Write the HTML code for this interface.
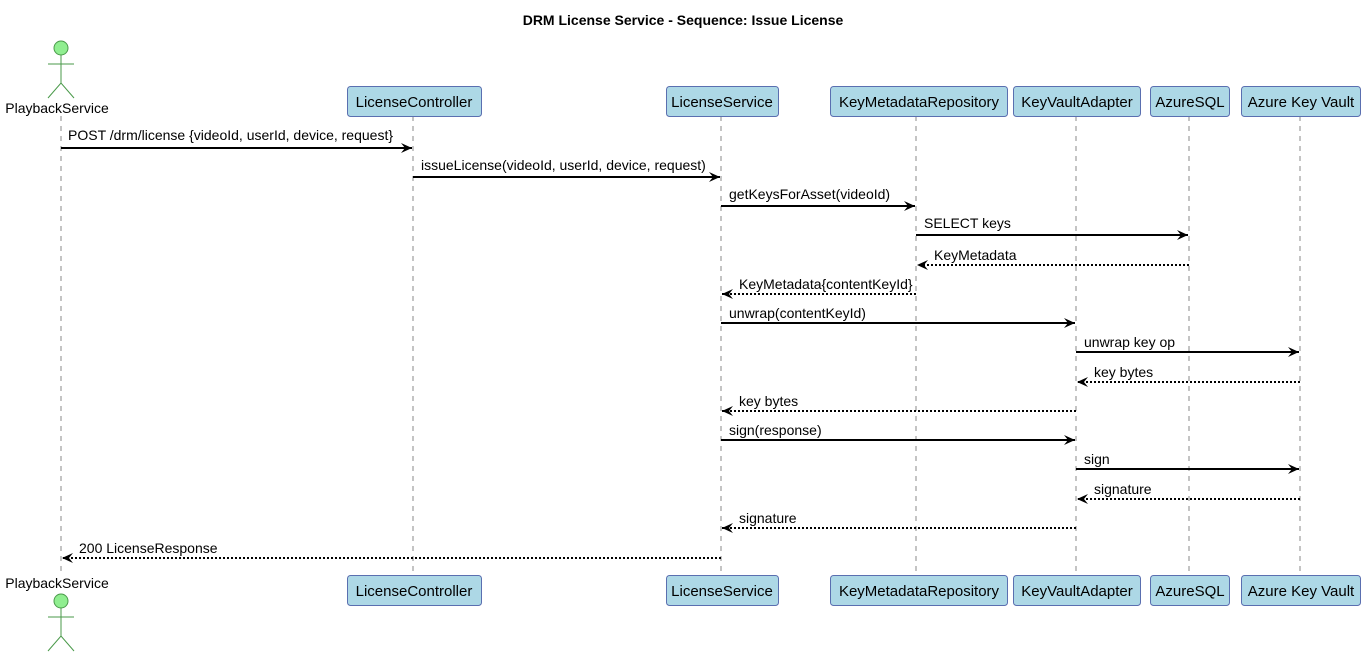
<!DOCTYPE html>
<html><head><meta charset="utf-8"><style>
body{margin:0;background:#fff}
svg text{font-family:"Liberation Sans","DejaVu Sans",sans-serif}
</style></head><body>
<svg width="1367" height="656" xmlns="http://www.w3.org/2000/svg">
<defs>
<marker id="a" markerWidth="12" markerHeight="10" refX="11" refY="5" orient="auto" markerUnits="userSpaceOnUse">
<path d="M0,0 L11,5 L0,10 L4,5 Z" fill="#000"/></marker>
</defs>
<text x="683" y="25" text-anchor="middle" font-size="14" font-weight="bold">DRM License Service - Sequence: Issue License</text>
<g stroke="#888" stroke-dasharray="5,5" stroke-width="1">
<line x1="61" y1="116" x2="61" y2="575"/>
<line x1="413" y1="116" x2="413" y2="575"/>
<line x1="721" y1="116" x2="721" y2="575"/>
<line x1="916" y1="116" x2="916" y2="575"/>
<line x1="1076" y1="116" x2="1076" y2="575"/>
<line x1="1189" y1="116" x2="1189" y2="575"/>
<line x1="1300" y1="116" x2="1300" y2="575"/>
</g>
<g fill="#ADD8E6" stroke="#5a6fb0" stroke-width="1">
<rect x="347.5" y="86.5" width="134" height="30" rx="3"/>
<rect x="666.5" y="86.5" width="112" height="30" rx="3"/>
<rect x="830.5" y="86.5" width="177" height="30" rx="3"/>
<rect x="1013.5" y="86.5" width="127" height="30" rx="3"/>
<rect x="1150.5" y="86.5" width="79" height="30" rx="3"/>
<rect x="1241.5" y="86.5" width="119" height="30" rx="3"/>
<rect x="347.5" y="575.5" width="134" height="30" rx="3"/>
<rect x="666.5" y="575.5" width="112" height="30" rx="3"/>
<rect x="830.5" y="575.5" width="177" height="30" rx="3"/>
<rect x="1013.5" y="575.5" width="127" height="30" rx="3"/>
<rect x="1150.5" y="575.5" width="79" height="30" rx="3"/>
<rect x="1241.5" y="575.5" width="119" height="30" rx="3"/>
</g>
<g font-size="15" text-anchor="middle">
<text x="414" y="107">LicenseController</text><text x="722" y="107">LicenseService</text>
<text x="919" y="107">KeyMetadataRepository</text><text x="1077" y="107">KeyVaultAdapter</text>
<text x="1190" y="107">AzureSQL</text><text x="1301" y="107">Azure Key Vault</text>
<text x="414" y="596">LicenseController</text><text x="722" y="596">LicenseService</text>
<text x="919" y="596">KeyMetadataRepository</text><text x="1077" y="596">KeyVaultAdapter</text>
<text x="1190" y="596">AzureSQL</text><text x="1301" y="596">Azure Key Vault</text>
</g>
<g font-size="14" text-anchor="middle">
<text x="57" y="113">PlaybackService</text><text x="57" y="588">PlaybackService</text>
</g>
<g stroke="#4a9a4a" fill="none" stroke-width="1">
<circle cx="61" cy="48" r="7" fill="#90EE90"/><line x1="61" y1="55" x2="61" y2="83"/><line x1="48" y1="64" x2="74" y2="64"/><polyline points="48,98 61,83 74,98"/>
<circle cx="61" cy="601" r="7" fill="#90EE90"/><line x1="61" y1="608" x2="61" y2="636"/><line x1="48" y1="617" x2="74" y2="617"/><polyline points="48,651 61,636 74,651"/>
</g>
<g stroke="#000" stroke-width="2" marker-end="url(#a)">
<line x1="61" y1="148" x2="412" y2="148"/>
<line x1="413" y1="177" x2="720" y2="177"/>
<line x1="721" y1="206" x2="915" y2="206"/>
<line x1="916" y1="235" x2="1188" y2="235"/>
<line x1="1189" y1="265" x2="917" y2="265" stroke-dasharray="2,2"/>
<line x1="916" y1="294" x2="722" y2="294" stroke-dasharray="2,2"/>
<line x1="721" y1="323" x2="1075" y2="323"/>
<line x1="1076" y1="352" x2="1299" y2="352"/>
<line x1="1300" y1="382" x2="1077" y2="382" stroke-dasharray="2,2"/>
<line x1="1076" y1="411" x2="722" y2="411" stroke-dasharray="2,2"/>
<line x1="721" y1="440" x2="1075" y2="440"/>
<line x1="1076" y1="469" x2="1299" y2="469"/>
<line x1="1300" y1="499" x2="1077" y2="499" stroke-dasharray="2,2"/>
<line x1="1076" y1="528" x2="722" y2="528" stroke-dasharray="2,2"/>
<line x1="721" y1="558" x2="62" y2="558" stroke-dasharray="2,2"/>
</g>
<g font-size="14">
<text x="68" y="140">POST  /drm/license {videoId, userId, device, request}</text>
<text x="421" y="170">issueLicense(videoId, userId, device, request)</text>
<text x="729" y="199">getKeysForAsset(videoId)</text>
<text x="924" y="228">SELECT keys</text>
<text x="934" y="260">KeyMetadata</text>
<text x="739" y="289">KeyMetadata{contentKeyId}</text>
<text x="729" y="318">unwrap(contentKeyId)</text>
<text x="1084" y="347">unwrap key op</text>
<text x="1094" y="377">key bytes</text>
<text x="739" y="406">key bytes</text>
<text x="729" y="435">sign(response)</text>
<text x="1084" y="464">sign</text>
<text x="1094" y="494">signature</text>
<text x="739" y="523">signature</text>
<text x="79" y="553">200 LicenseResponse</text>
</g>
</svg>
</body></html>
